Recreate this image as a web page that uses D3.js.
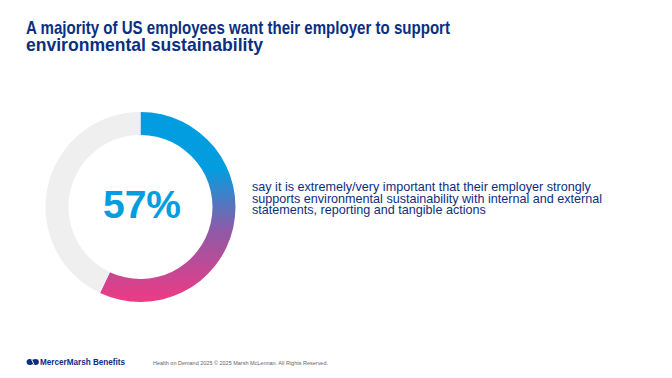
<!DOCTYPE html>
<html>
<head>
<meta charset="utf-8">
<script src="https://cdn.jsdelivr.net/npm/d3@7"></script>
<style>
  html, body { margin: 0; padding: 0; background: #fff; }
  svg { display: block; font-family: "Liberation Sans", Arial, sans-serif; }
</style>
</head>
<body>
<div id="chart"></div>
<script>
// chart data
const segments = ["Extremely/very important", "Other"];
const shares = [57, 43];
const bigLabel = "57%";
const titleLines = [
  "A majority of US employees want their employer to support",
  "environmental sustainability"
];
const noteLines = [
  "say it is extremely/very important that their employer strongly",
  "supports environmental sustainability with internal and external",
  "statements, reporting and tangible actions"
];
const brandName = "MercerMarsh Benefits";
const copyright = "Health on Demand 2025 \u00a9 2025 Marsh McLennan. All Rights Reserved.";

const width = 672, height = 378;
const navy = "#0b2f80";

const svg = d3.select("#chart").append("svg")
  .attr("width", width)
  .attr("height", height);

// title
svg.append("text")
  .attr("fill", navy)
  .attr("font-size", 19)
  .attr("font-weight", "bold")
  .selectAll("tspan")
  .data(titleLines)
  .join("tspan")
  .attr("x", 26)
  .attr("y", (d, i) => 33.5 + i * 17)
  .attr("textLength", (d, i) => i === 0 ? 424 : 237)
  .attr("lengthAdjust", "spacingAndGlyphs")
  .text(d => d);

// donut
const cx = 140.5, cy = 207;
const outerR = 95, innerR = 72;
const data = segments.map((s, i) => ({ name: s, value: shares[i] }));

// gradient for the highlighted arc (in the donut group's coords)
const grad = svg.append("defs").append("linearGradient")
  .attr("id", "ringGrad")
  .attr("gradientUnits", "userSpaceOnUse")
  .attr("x1", 0).attr("y1", -outerR)
  .attr("x2", 0).attr("y2", outerR);
[
  [0, "#009de0"],
  [0.3, "#049ddf"],
  [0.62, "#8e5aa8"],
  [1, "#ef3a84"]
].forEach(([o, c]) => grad.append("stop").attr("offset", o).attr("stop-color", c));

const pie = d3.pie()
  .value(d => d.value)
  .sort(null);
const arc = d3.arc()
  .innerRadius(innerR)
  .outerRadius(outerR);

const g = svg.append("g")
  .attr("transform", `translate(${cx},${cy})`);

g.selectAll("path")
  .data(pie(data))
  .join("path")
  .attr("d", arc)
  .attr("fill", (d, i) => i === 0 ? "url(#ringGrad)" : "#efefef");

g.append("text")
  .attr("x", 1.5)
  .attr("y", 11)
  .attr("text-anchor", "middle")
  .attr("fill", "#009de0")
  .attr("font-size", 39)
  .attr("font-weight", "bold")
  .text(bigLabel);

// note text
svg.append("text")
  .attr("fill", navy)
  .attr("font-size", 12.6)
  .selectAll("tspan")
  .data(noteLines)
  .join("tspan")
  .attr("x", 252)
  .attr("y", (d, i) => 191 + i * 11.5)
  .text(d => d);

// footer
const logo = svg.append("g").attr("transform", "translate(27,362)");
logo.append("ellipse").attr("cx", 3).attr("cy", 0).attr("rx", 3.4).attr("ry", 3).attr("fill", navy);
logo.append("ellipse").attr("cx", 8.5).attr("cy", 0).attr("rx", 3.4).attr("ry", 3).attr("fill", navy);
logo.append("path").attr("d", "M4.5,-2.5 L7,2.5").attr("stroke", "#fff").attr("stroke-width", 1);

svg.append("text")
  .attr("x", 40)
  .attr("y", 365)
  .attr("fill", navy)
  .attr("font-size", 8.5)
  .attr("font-weight", "bold")
  .attr("textLength", 85)
  .attr("lengthAdjust", "spacingAndGlyphs")
  .text(brandName);

svg.append("text")
  .attr("x", 153)
  .attr("y", 364.5)
  .attr("fill", "#666")
  .attr("font-size", 5.5)
  .attr("textLength", 175)
  .attr("lengthAdjust", "spacingAndGlyphs")
  .text(copyright);
</script>
</body>
</html>
